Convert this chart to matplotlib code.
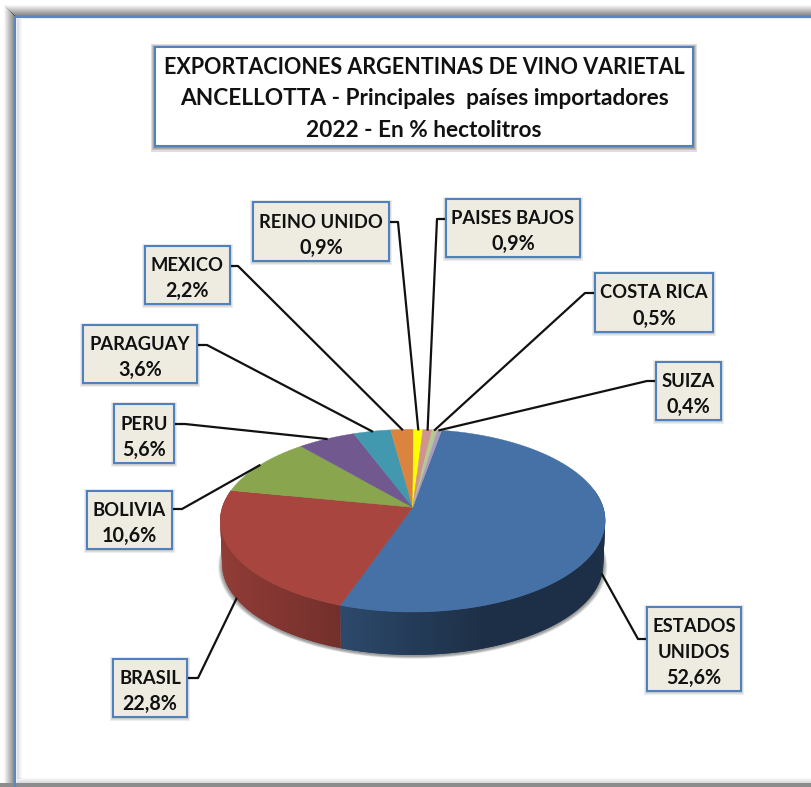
import numpy as np
import matplotlib
matplotlib.use("Agg")
import matplotlib.pyplot as plt
from matplotlib.patches import Polygon, Rectangle
from matplotlib.collections import PolyCollection

plt.rcParams['font.family'] = ['Lato', 'DejaVu Sans']

# data, clockwise from the first slice
paises = ['ESTADOS\nUNIDOS', 'BRASIL', 'BOLIVIA', 'PERU', 'PARAGUAY', 'MEXICO',
          'REINO UNIDO', 'PAISES BAJOS', 'COSTA RICA', 'SUIZA']
porcentajes = [52.6, 22.8, 10.6, 5.6, 3.6, 2.2, 0.9, 0.9, 0.5, 0.4]
etiquetas = ['52,6%', '22,8%', '10,6%', '5,6%', '3,6%', '2,2%', '0,9%', '0,9%', '0,5%', '0,4%']
titulo = ['EXPORTACIONES ARGENTINAS DE VINO VARIETAL',
          'ANCELLOTTA - Principales  países importadores',
          '2022 - En % hectolitros']

colores = ['#4571A7', '#A8453F', '#89A54E', '#71588F', '#4198AF',
           '#DB843D', '#FFFF00', '#D09490', '#B5CA92', '#A99BBD']

# label boxes (left, top, right, bottom) and leader elbow (x, y), in pixels
cajas = [(647, 607, 741, 691), (113, 659, 187, 717), (87, 491, 172, 549), (114, 404, 174, 463),
         (83, 325, 197, 383), (145, 246, 230, 304), (253, 202, 389, 261), (446, 199, 580, 257),
         (595, 273, 713, 332), (656, 362, 721, 420)]
codos = [(638, 639), (198, 678), (182, 509), (185, 424), (207, 345),
         (238, 266), (398, 222), (437, 219), (585, 293), (647, 381)]

# pie geometry in pixels: a tilted circle seen in perspective
CX, CY = 412.7, 507.3
A, B, K = 89.4, 190.4, 0.146
DEPTH = 44
START = 10.0


def rim(theta):
    """Screen position of an angle (deg, clockwise from top) on the pie top"""
    t = np.radians(theta)
    u, v = np.sin(t), np.cos(t)
    den = 1 + K * v
    return CX + B * u / den, CY - A * v / den


def low(x, y):
    """Same rim point moved to the bottom face of the pie"""
    return CX + (x - CX) * 0.99, CY + (y - CY) * 0.99 + DEPTH


def side_factor(i, x):
    if i == 0:
        return np.interp(x, [341, 480], [0.64, 0.42])
    return np.interp(x, [222, 341], [0.86, 0.68])


def text_box(ax, caja, lineas, sizes, paso, base, n, grow, alpha):
    l, t, r, b = caja
    for j in range(n, 0, -1):
        g = grow * j / n
        ax.add_patch(Rectangle((l - g, t - g + 1), r - l + 2 * g, b - t + 2 * g,
                               fc='black', ec='none', alpha=alpha, zorder=5))
    fill = '#EEECE1' if n < 4 else 'white'
    ax.add_patch(Rectangle((l, t), r - l, b - t, fc=fill, ec='#4F81BD', lw=1.5, zorder=6))
    for k, txt in enumerate(lineas):
        y = (t + b) / 2 + (k - (len(lineas) - 1) / 2) * paso + base
        ax.text((l + r) / 2, y, txt, ha='center', va='baseline', fontsize=sizes[k],
                fontweight='bold', color='#111111', zorder=7)


fig = plt.figure(figsize=(8.12, 7.87), dpi=100)
ax = fig.add_axes([0, 0, 1, 1])
ax.set_xlim(0, 812)
ax.set_ylim(787, 0)
ax.axis('off')

# outer frame: soft grey shadow top and left, blue line, grey band at the bottom
for j in range(12):
    g = 0.03 + 0.045 * j
    ax.add_patch(Rectangle((4 + j, 5 + j), 1.2, 790, fc='black', ec='none', alpha=g, zorder=1))
    ax.add_patch(Rectangle((4 + j, 5 + j), 820, 1.2, fc='black', ec='none', alpha=g, zorder=1))
ax.add_patch(Rectangle((15, 17), 800, 765, fc='white', ec='none', zorder=1.5))
for j in range(5):
    ax.add_patch(Rectangle((17 + j, 19), 1, 760, fc='black', ec='none', alpha=0.14 - 0.028 * j, zorder=1.6))
    ax.add_patch(Rectangle((17, 782 - j), 800, 1, fc='black', ec='none', alpha=0.14 - 0.028 * j, zorder=1.6))
ax.add_patch(Rectangle((0, 783), 812, 4, fc='#8C8C8C', ec='none', zorder=1.7))
ax.add_patch(Rectangle((15, 17), 812, 775, fc='none', ec='#5B86BE', lw=1.6, zorder=1.8))

total = sum(porcentajes)
bordes = START + np.concatenate([[0], np.cumsum(porcentajes)]) / total * 360

# shadow under the pie
fino = np.linspace(0, 360, 361)
xs, ys = rim(fino)
xs, ys = low(xs, ys)
for j in range(6, 0, -1):
    esc = 1 + 0.0035 * j
    ax.add_patch(Polygon(np.c_[CX + (xs - CX) * esc, CY + 14 + (ys - CY - 14) * esc + 1], fc='black',
                         ec='none', alpha=0.08, zorder=2))

# side wall, only the near half shows; each strip runs a bit under the next one
quads, quad_colors = [], []
for i, (a0, a1) in enumerate(zip(bordes[:-1], bordes[1:])):
    pasos = np.append(np.arange(a0, a1, 1.0), a1)
    for p0, p1 in zip(pasos[:-1], pasos[1:]):
        if np.cos(np.radians((p0 + p1) / 2)) > 0.2:
            continue
        x0, y0 = rim(p0)
        x1, y1 = rim(min(p1 + 1.0, a1))
        x2, y2 = low(x1, y1)
        x3, y3 = low(x0, y0)
        quads.append([(x0, y0), (x1, y1), (x2, y2), (x3, y3)])
        f = side_factor(i, (x0 + x1) / 2)
        quad_colors.append(np.array(matplotlib.colors.to_rgb(colores[i])) * f)
ax.add_collection(PolyCollection(quads, facecolors=quad_colors, edgecolors='none', zorder=3))

# top face
for i, (a0, a1) in enumerate(zip(bordes[:-1], bordes[1:])):
    th = np.linspace(a0, a1, max(int(a1 - a0) * 2, 4))
    x, y = rim(th)
    pts = np.r_[[[CX, CY]], np.c_[x, y]]
    ax.add_patch(Polygon(pts, fc=colores[i], ec=colores[i], lw=0.3, zorder=4))

# leader lines go from the box through the elbow to the middle of each slice
for i, (a0, a1) in enumerate(zip(bordes[:-1], bordes[1:])):
    mid = (a0 + a1) / 2
    x, y = rim(mid)
    if np.cos(np.radians(mid)) < -0.1:
        x, y = low(x, y)
    l, t, r, b = cajas[i]
    ex, ey = codos[i]
    bx = r if ex > r else l
    ax.plot([bx, ex, x], [ey, ey, y], color='#111111', lw=1.6, solid_joinstyle='round', zorder=4.5)

for i in range(len(paises)):
    lineas = paises[i].split('\n') + [etiquetas[i]]
    text_box(ax, cajas[i], lineas, [13.2] * (len(lineas) - 1) + [14.2], 26, 9, 3, 3, 0.07)

text_box(ax, (155.5, 47, 693, 146), titulo, [15.5, 16.3, 16.3], 31.5, 8.6, 4, 4.5, 0.13)

fig.savefig('out.png', dpi=100)
